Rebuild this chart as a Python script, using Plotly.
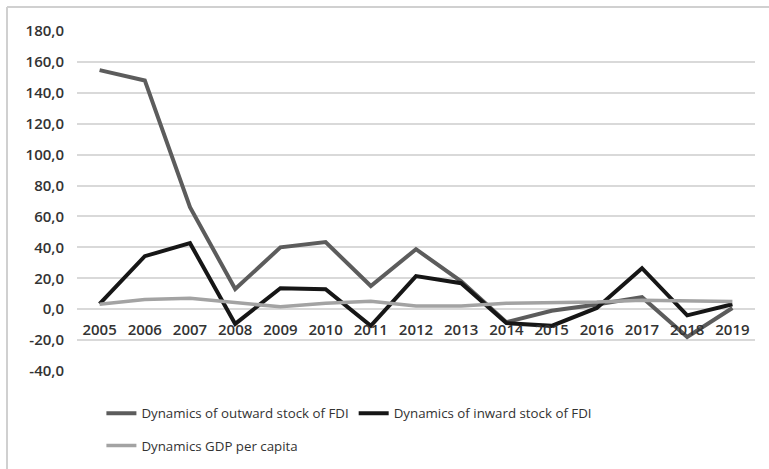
import plotly.graph_objects as go

# Years on the category axis
years = ["2005", "2006", "2007", "2008", "2009", "2010", "2011", "2012",
         "2013", "2014", "2015", "2016", "2017", "2018", "2019"]

# Annual dynamics, %
outward_fdi = [154.7, 148.0, 66.0, 13.0, 40.0, 43.4, 15.0, 38.8,
               18.0, -8.4, -1.0, 3.0, 7.8, -18.0, 0.8]
inward_fdi = [3.5, 34.3, 42.7, -9.5, 13.6, 12.9, -10.8, 21.4,
              16.8, -9.0, -10.8, 0.8, 26.5, -4.0, 3.2]
gdp_per_capita = [3.2, 6.3, 7.0, 4.3, 1.5, 3.8, 5.2, 2.0,
                  2.0, 3.8, 4.4, 4.6, 5.8, 5.6, 5.0]

y_ticks = list(range(-40, 181, 20))
y_ticktext = [f"{v:.1f}".replace(".", ",") for v in y_ticks]

Y_MIN, Y_MAX = -40, 180

fig = go.Figure()
fig.add_trace(go.Scatter(
    x=years, y=outward_fdi, mode="lines",
    name="Dynamics of outward stock of FDI",
    line=dict(color="#5c5c5c", width=4), legend="legend",
))
fig.add_trace(go.Scatter(
    x=years, y=inward_fdi, mode="lines",
    name="Dynamics of inward stock of FDI",
    line=dict(color="#161616", width=4), legend="legend",
))
fig.add_trace(go.Scatter(
    x=years, y=gdp_per_capita, mode="lines",
    name="Dynamics GDP per capita",
    line=dict(color="#a3a3a3", width=3.5), legend="legend2",
))

tick_font = dict(family="Open Sans", size=15, color="#333333", weight=600)
legend_font = dict(family="Open Sans", size=13.3, color="#333333")

fig.update_layout(
    width=769, height=469,
    margin=dict(l=77, r=14, t=31, b=98, autoexpand=False),
    paper_bgcolor="white", plot_bgcolor="white",
    showlegend=True,
    xaxis=dict(
        type="category", anchor="free", automargin=False,
        range=[-0.5, len(years) - 0.5],
        position=(0 - Y_MIN) / (Y_MAX - Y_MIN),
        showgrid=False, showline=False, zeroline=False, ticks="",
        tickfont=tick_font, ticklabelstandoff=10,
    ),
    yaxis=dict(
        range=[Y_MIN, Y_MAX], tickvals=y_ticks, ticktext=y_ticktext,
        automargin=False,
        showgrid=True, gridcolor="#d9d9d9", gridwidth=1.5,
        zeroline=False, showline=False, ticks="",
        tickfont=tick_font, ticklabelstandoff=12,
    ),
    legend=dict(
        orientation="h", x=0.036, y=-0.125, xanchor="left", yanchor="middle",
        font=legend_font, bgcolor="rgba(0,0,0,0)", itemwidth=30,
        tracegroupgap=0,
    ),
    legend2=dict(
        orientation="h", x=0.036, y=-0.22, xanchor="left", yanchor="middle",
        font=legend_font, bgcolor="rgba(0,0,0,0)", itemwidth=30,
    ),
    shapes=[
        # Chart frame: left and top edges
        dict(type="line", xref="paper", yref="paper",
             x0=(7 - 77) / 678, x1=(7 - 77) / 678, y0=-0.3, y1=1 + 24 / 340,
             line=dict(color="#d0d0d0", width=2)),
        dict(type="line", xref="paper", yref="paper",
             x0=(7 - 77) / 678, x1=1.03, y0=1 + 24 / 340, y1=1 + 24 / 340,
             line=dict(color="#d0d0d0", width=2)),
    ],
)

fig.write_html("out.html")
